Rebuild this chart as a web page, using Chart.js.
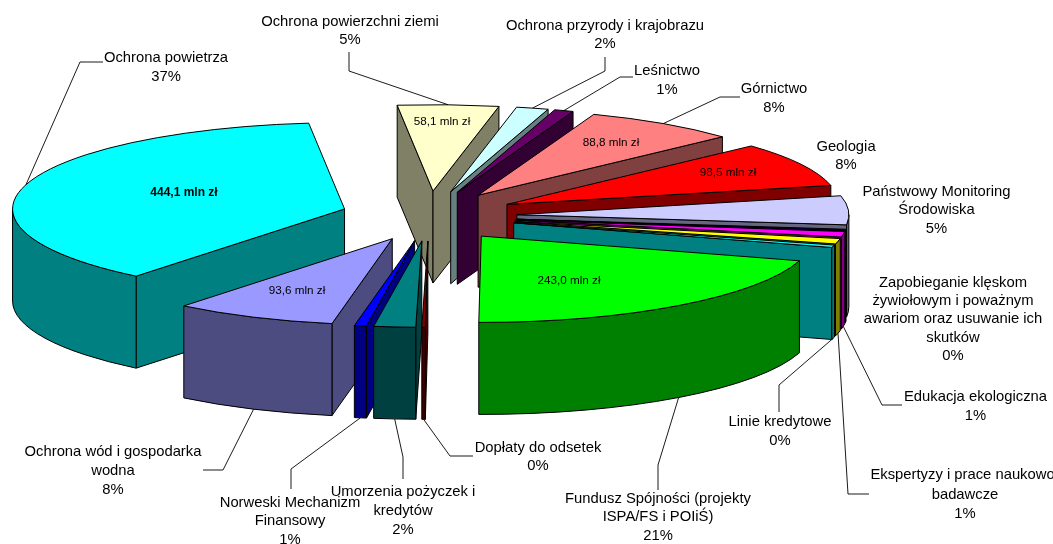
<!DOCTYPE html>
<html><head><meta charset="utf-8">
<style>html,body{margin:0;padding:0;background:#fff}#w{width:1053px;height:544px;overflow:hidden}</style>
<script src="https://cdn.jsdelivr.net/npm/chart.js@4"></script>
</head><body><div id="w"><canvas id="c" width="1053" height="544"></canvas></div>
<script>
const categories = ["Ochrona powierzchni ziemi","Ochrona przyrody i krajobrazu","Leśnictwo","Górnictwo","Geologia","Państwowy Monitoring Środowiska","Zapobieganie klęskom żywiołowym i poważnym awariom oraz usuwanie ich skutków","Edukacja ekologiczna","Ekspertyzy i prace naukowo-badawcze","Linie kredytowe","Fundusz Spójności (projekty ISPA/FS i POIiŚ)","Dopłaty do odsetek","Umorzenia pożyczek i kredytów","Norweski Mechanizm Finansowy","Ochrona wód i gospodarka wodna","Ochrona powietrza"];
const values = [58.1,18.5,11,88.8,98.5,64,3,12,12,5.5,243,2,24,7,93.6,444.1];
const percents = ["5%","2%","1%","8%","8%","5%","0%","1%","1%","0%","21%","0%","2%","1%","8%","37%"];
const topColors = ["#FFFFCC","#CCFFFF","#660066","#FF8080","#FF0000","#CCCCFF","#000080","#FF00FF","#FFFF00","#00FFFF","#00FF00","#800000","#008080","#0000FF","#9999FF","#00FFFF"];
const wallColors = ["#808066","#668080","#330033","#804040","#800000","#666680","#000040","#800080","#808000","#008080","#008000","#400000","#004040","#000080","#4C4C80","#008080"];
const valueTexts = ["58,1 mln zł",null,null,"88,8 mln zł","98,5 mln zł",null,null,null,null,null,"243,0 mln zł",null,null,null,"93,6 mln zł","444,1 mln zł"];

// layout (not data)
const CX=429, CY=216, TILT=0.26, DEPTH=92, EXPLODE_X=88, EXPLODE_Y=25, RADIUS=332, START=353.8;
const valuePos = {0:[442,122],3:[611,143],4:[728,173],10:[569,281],14:[297,291],15:[184,193]};
const labelLayout = [
 {x:350,y:[21,39],lead:[[349,52],[349,71]],drop:0,lines:["Ochrona powierzchni ziemi"]},
 {x:605,y:[25,43],lead:[[605,57],[605,71]],drop:0,lines:["Ochrona przyrody i krajobrazu"]},
 {x:667,y:[70,89],lead:[[633,77],[620,77]],drop:0,lines:["Leśnictwo"]},
 {x:774,y:[88,107],lead:[[740,97],[720,97]],drop:0,lines:["Górnictwo"]},
 {x:846,y:[146,164],lines:["Geologia"]},
 {x:936.5,y:[191,209,228],lines:["Państwowy Monitoring","Środowiska"]},
 {x:953,y:[282,300,318,337,355],lines:["Zapobieganie klęskom","żywiołowym i poważnym","awariom oraz usuwanie ich","skutków"]},
 {x:975.5,y:[396,415],lead:[[902,405],[882,405]],drop:1,lines:["Edukacja ekologiczna"]},
 {x:965,y:[474,494,513],lead:[[869,494],[848,494]],drop:1,lines:["Ekspertyzy i prace naukowo-","badawcze"]},
 {x:780,y:[421,440],lead:[[779,412],[779,385]],drop:1,lines:["Linie kredytowe"]},
 {x:658,y:[498,516,535],lead:[[658,490],[658,465]],drop:1,lines:["Fundusz Spójności (projekty","ISPA/FS i POIiŚ)"]},
 {x:538,y:[447,465],lead:[[473,456],[450,456]],drop:1,lines:["Dopłaty do odsetek"]},
 {x:403,y:[491,510,529],lead:[[403,479],[403,457]],drop:1,lines:["Umorzenia pożyczek i","kredytów"]},
 {x:290,y:[502,520,539],lead:[[291,489],[291,469]],drop:1,lines:["Norweski Mechanizm","Finansowy"]},
 {x:113,y:[451,470,489],lead:[[203,470],[223,470]],drop:1,lines:["Ochrona wód i gospodarka","wodna"]},
 {x:166,y:[57,76],lead:[[103,62],[80,62]],drop:0,lines:["Ochrona powietrza"]}
];

function geom(arc){
  const s=arc.startAngle, e=arc.endAngle, m=(s+e)/2;
  return {s,e,m,ax:CX+Math.cos(m)*EXPLODE_X, ay:CY+Math.sin(m)*EXPLODE_Y, r:arc.outerRadius};
}
function rimPt(g,a){return [g.ax+Math.cos(a)*g.r, g.ay+Math.sin(a)*g.r*TILT];}
function face(ctx,pts,fill){
  ctx.beginPath();pts.forEach((p,i)=>i?ctx.lineTo(p[0],p[1]):ctx.moveTo(p[0],p[1]));ctx.closePath();
  ctx.fillStyle=fill;ctx.fill();ctx.stroke();
}
const piePlugin={
  id:'pie3d',
  beforeDatasetsDraw(chart){
    const ctx=chart.ctx, arcs=chart.getDatasetMeta(0).data;
    const order=arcs.map((a,i)=>i).sort((i,j)=>geom(arcs[i]).ay-geom(arcs[j]).ay);
    ctx.save();
    ctx.lineWidth=1;ctx.strokeStyle='#000';ctx.lineJoin='round';
    for(const i of order){
      const g=geom(arcs[i]), w=wallColors[i];
      const ps=rimPt(g,g.s), pe=rimPt(g,g.e);
      if(Math.cos(g.s)<0) face(ctx,[[g.ax,g.ay],ps,[ps[0],ps[1]+DEPTH],[g.ax,g.ay+DEPTH]],w);
      if(Math.cos(g.e)>0) face(ctx,[[g.ax,g.ay],pe,[pe[0],pe[1]+DEPTH],[g.ax,g.ay+DEPTH]],w);
      const tw=2*Math.PI;
      const ns=((g.s%tw)+tw)%tw, ne=ns+(g.e-g.s);
      for(const [lo,hi] of [[0,Math.PI],[tw,tw+Math.PI]]){
        const a=Math.max(ns,lo), b=Math.min(ne,hi);
        if(b>a){
          ctx.beginPath();
          ctx.ellipse(g.ax,g.ay,g.r,g.r*TILT,0,a,b,false);
          ctx.ellipse(g.ax,g.ay+DEPTH,g.r,g.r*TILT,0,b,a,true);
          ctx.closePath();ctx.fillStyle=w;ctx.fill();ctx.stroke();
        }
      }
    }
    ctx.restore();
    // top faces: drawn by the library's arc elements under a tilt transform
    for(const i of order){
      const a=arcs[i], g=geom(a);
      ctx.save();
      ctx.translate(g.ax,g.ay);ctx.scale(1,TILT);ctx.translate(-a.x,-a.y);
      a.draw(ctx,chart.chartArea);
      ctx.restore();
      ctx.save();
      ctx.beginPath();ctx.moveTo(g.ax,g.ay);
      ctx.ellipse(g.ax,g.ay,g.r,g.r*TILT,0,g.s,g.e,false);ctx.closePath();
      ctx.lineWidth=1;ctx.strokeStyle='#000';ctx.lineJoin='round';ctx.stroke();
      ctx.restore();
    }
    return false;
  },
  afterDraw(chart){
    const ctx=chart.ctx, arcs=chart.getDatasetMeta(0).data;
    ctx.save();
    ctx.strokeStyle='#000';ctx.lineWidth=0.9;
    labelLayout.forEach((l,i)=>{
      if(!l.lead) return;
      const g=geom(arcs[i]), p=rimPt(g,g.m);
      ctx.beginPath();
      l.lead.forEach((q,k)=>k?ctx.lineTo(q[0],q[1]):ctx.moveTo(q[0],q[1]));
      ctx.lineTo(p[0],p[1]+(l.drop?DEPTH:0));ctx.stroke();
    });
    ctx.fillStyle='#000';ctx.textAlign='center';ctx.textBaseline='middle';
    ctx.font='14.8px "Liberation Sans"';
    labelLayout.forEach((l,i)=>l.lines.concat(percents[i]).forEach((s,k)=>ctx.fillText(s,l.x,l.y[k]+1)));
    valueTexts.forEach((s,i)=>{
      if(!s) return;
      ctx.font=(i===15?'bold 12px':'11.7px')+' "Liberation Sans"';
      ctx.fillText(s,valuePos[i][0],valuePos[i][1]);
    });
    ctx.restore();
  }
};
new Chart(document.getElementById('c'),{
  type:'pie',
  data:{labels:categories,datasets:[{data:values,backgroundColor:topColors,borderWidth:0,clip:false}]},
  options:{responsive:false,animation:false,events:[],rotation:START,radius:RADIUS,
    plugins:{legend:{display:false},tooltip:{enabled:false}}},
  plugins:[piePlugin]
});
</script></body></html>
